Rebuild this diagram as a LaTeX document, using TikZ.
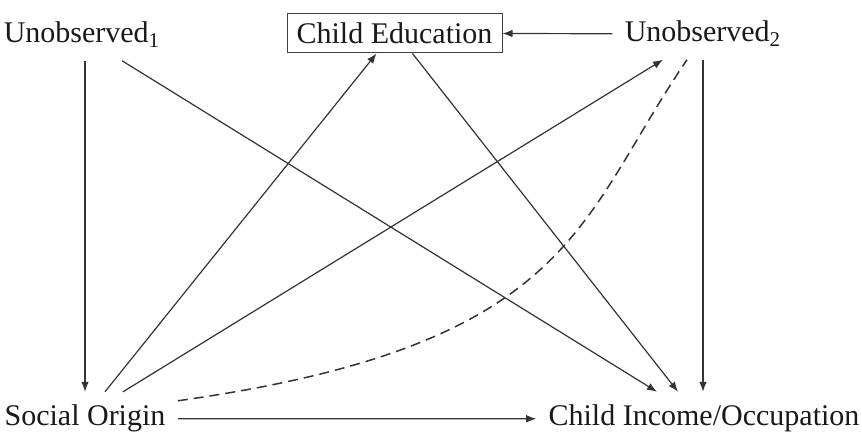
\documentclass[tikz,border=0pt]{standalone}
\usepackage{fontspec}
\setmainfont{Liberation Serif}
\usepackage{xcolor}
\usepackage{tikz}
\usetikzlibrary{arrows.meta,calc}

\begin{document}
\begin{tikzpicture}[
  x=0.5pt, y=-0.5pt,
  font=\fontsize{15pt}{18pt}\selectfont,
  var/.style={inner xsep=6pt, inner ysep=6.5pt, anchor=base, text=black!90},
  box/.style={rectangle, draw=black!75, line width=0.5pt, minimum width=107.5pt, minimum height=19.5pt, inner sep=0pt, text=black!90},
  arr/.style={-{Latex[length=5pt,width=3.8pt]}, line width=0.6pt, draw=black!80},
  assoc/.style={dash pattern=on 5pt off 3pt, line width=0.75pt, draw=black!80}
]
\useasboundingbox (0,0) rectangle (862,432);

\node[var] (u1) at (82,43) {Unobserved\textsubscript{1}};
\node[box] (edu) at (394.5,33.5) {Child Education};
\node[var] (u2) at (703,42) {Unobserved\textsubscript{2}};
\node[var] (so) at (85,426) {Social Origin};
\node[var] (inc) at (704,426) {Child Income/Occupation};

\draw[arr] (u1.south -| so.north) -- (so.north);
\draw[arr] ($(u1.south)+(40,0)$) -- ($(inc.north)+(-47,0)$);
\draw[arr] ($(edu.south)+(18,0)$) -- ($(inc.north)+(-26,0)$);
\draw[arr] (u2.south) -- (u2.south |- inc.north);
\draw[arr] (u2.west) -- (edu.east);
\draw[arr] ($(so.north)+(20,0)$) -- ($(edu.south)+(-18,0)$);
\draw[arr] ($(so.north)+(38,0)$) -- ($(u2.south)+(-40,0)$);
\draw[arr] (so.east) -- (inc.west);
\draw[assoc] ($(so.north east)+(0,9)$) .. controls (575,345) and (577,221) .. ($(u2.south)+(-16,0)$);
\end{tikzpicture}
\end{document}
